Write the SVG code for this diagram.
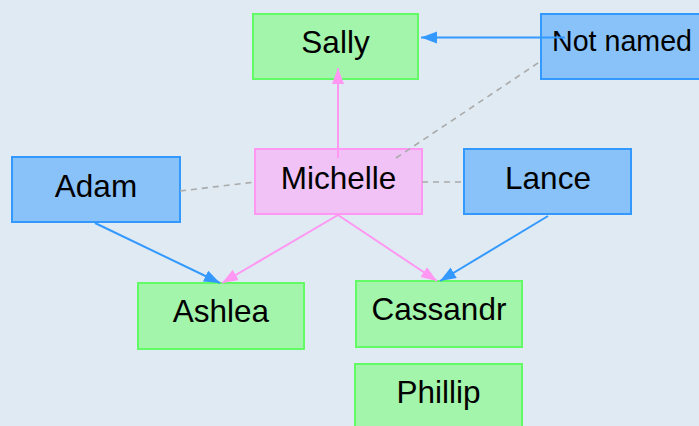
<svg xmlns="http://www.w3.org/2000/svg" width="699" height="426" viewBox="0 0 699 426">
<defs>
<style>
.t{font-family:"Liberation Sans",Arial,sans-serif;font-size:31.5px;fill:#000;text-anchor:middle}
.g rect{fill:#a2f5aa;stroke:#62fb66;stroke-width:2}
.b rect{fill:#88c2f8;stroke:#3399ff;stroke-width:2}
.p rect{fill:#f0c2f6;stroke:#ff97f3;stroke-width:2}
.cb{stroke:#3399ff;stroke-width:2;fill:none;marker-end:url(#ab)}
.cp{stroke:#ff97f3;stroke-width:2;fill:none;marker-end:url(#ap)}
.cd{stroke:#aaaaaa;stroke-width:1.6;fill:none;stroke-dasharray:6 5}
</style>
<marker id="ab" markerUnits="userSpaceOnUse" markerWidth="17" markerHeight="13" refX="16" refY="6" orient="auto">
<path d="M0,0 L16,6 L0,12 z" fill="#3399ff"/>
</marker>
<marker id="ap" markerUnits="userSpaceOnUse" markerWidth="17" markerHeight="13" refX="16" refY="6" orient="auto">
<path d="M0,0 L16,6 L0,12 z" fill="#ff97f3"/>
</marker>
</defs>
<rect x="0" y="0" width="699" height="426" fill="#dfeaf2"/>
<g id="sally" class="g"><rect x="253" y="14" width="165" height="65"/><text class="t" x="335.5" y="53">Sally</text></g>
<g id="not-named" class="b"><rect x="541" y="14" width="165" height="65"/><text class="t" x="622" y="51" style="font-size:28.6px">Not named</text></g>
<g id="adam" class="b"><rect x="12" y="157" width="168" height="65"/><text class="t" x="96" y="197">Adam</text></g>
<g id="michelle" class="p"><rect x="255" y="149" width="167" height="65"/><text class="t" x="338.5" y="189">Michelle</text></g>
<g id="lance" class="b"><rect x="464" y="149" width="167" height="65"/><text class="t" x="548" y="189">Lance</text></g>
<g id="ashlea" class="g"><rect x="138" y="283" width="166" height="66"/><text class="t" x="221" y="322">Ashlea</text></g>
<g id="cassandr" class="g"><rect x="356" y="281" width="166" height="66"/><text class="t" x="439" y="320">Cassandr</text></g>
<g id="phillip" class="g"><rect x="355" y="364" width="167" height="66"/><text class="t" x="438.5" y="403">Phillip</text></g>
<g id="connectors">
<path class="cd" d="M180,191 L255,182"/>
<path class="cd" d="M422,182 L464,182"/>
<path class="cd" d="M396,158 L541,61"/>
<path class="cb" d="M565,37.5 L421,37.5"/>
<path class="cp" d="M338,158 L338,68"/>
<path class="cp" d="M338,215 L222,283"/>
<path class="cp" d="M338,215 L437,281"/>
<path class="cb" d="M95,223 L220,283"/>
<path class="cb" d="M548,216 L440,281"/>
</g>
</svg>
